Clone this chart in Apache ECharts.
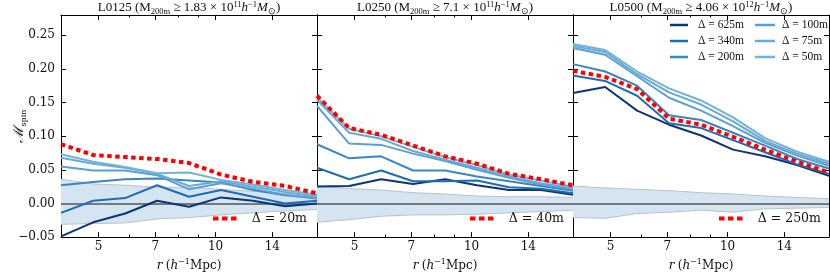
<!DOCTYPE html>
<html><head><meta charset="utf-8">
<script src="https://cdn.jsdelivr.net/npm/echarts@6/dist/echarts.min.js"></script>
<style>html,body{margin:0;padding:0;background:#fff}#c{width:830px;height:277px}</style>
</head><body><div id="c"></div>
<script>
// ---------- data ----------
const radii = [4.0, 4.84, 5.85, 7.07, 8.55, 10.33, 12.49, 15.1, 18.25];
const xTicks = [5, 7, 10, 14];
const xMinorTicks = [6, 8, 9];
const yTicks = [-0.05, 0, 0.05, 0.10, 0.15, 0.20, 0.25];
const deltaLabels = ['Δ = 625m', 'Δ = 340m', 'Δ = 200m', 'Δ = 100m', 'Δ = 75m', 'Δ = 50m'];
const panelNames = ['L0125', 'L0250', 'L0500'];
const massMant = ['1.83', '7.1', '4.06'];
const massExp = ['11', '11', '12'];
const redLabels = ['Δ = 20m', 'Δ = 40m', 'Δ = 250m'];

// L0125
const L0125_625 = [-0.049, -0.028, -0.015, 0.004, -0.005, 0.009, 0.004, -0.004, 0.000];
const L0125_340 = [-0.014, 0.004, 0.008, 0.027, 0.010, 0.020, 0.010, 0.000, 0.004];
const L0125_200 = [0.027, 0.032, 0.036, 0.037, 0.034, 0.031, 0.020, 0.012, 0.008];
const L0125_100 = [0.055, 0.049, 0.049, 0.042, 0.021, 0.030, 0.022, 0.013, 0.007];
const L0125_75  = [0.068, 0.059, 0.053, 0.044, 0.026, 0.033, 0.025, 0.017, 0.010];
const L0125_50  = [0.073, 0.062, 0.054, 0.045, 0.046, 0.035, 0.028, 0.020, 0.013];
const L0125_red = [0.088, 0.072, 0.069, 0.066, 0.060, 0.043, 0.032, 0.026, 0.015];
const L0125_hi  = [0.036, 0.029, 0.027, 0.024, 0.024, 0.021, 0.018, 0.015, 0.012];
const L0125_lo  = [-0.031, -0.030, -0.029, -0.023, -0.021, -0.017, -0.014, -0.011, -0.009];

// L0250
const L0250_625 = [0.025, 0.026, 0.036, 0.029, 0.036, 0.027, 0.020, 0.020, 0.013];
const L0250_340 = [0.053, 0.036, 0.049, 0.033, 0.033, 0.034, 0.024, 0.022, 0.015];
const L0250_200 = [0.088, 0.067, 0.070, 0.049, 0.049, 0.040, 0.033, 0.026, 0.019];
const L0250_100 = [0.145, 0.089, 0.087, 0.074, 0.063, 0.050, 0.038, 0.028, 0.021];
const L0250_75  = [0.154, 0.105, 0.096, 0.078, 0.065, 0.053, 0.040, 0.030, 0.023];
const L0250_50  = [0.158, 0.111, 0.100, 0.084, 0.069, 0.057, 0.043, 0.034, 0.025];
const L0250_red = [0.160, 0.112, 0.102, 0.086, 0.070, 0.059, 0.044, 0.036, 0.027];
const L0250_hi  = [0.026, 0.022, 0.020, 0.016, 0.014, 0.011, 0.010, 0.010, 0.009];
const L0250_lo  = [-0.028, -0.024, -0.019, -0.017, -0.017, -0.016, -0.014, -0.012, -0.010];

// L0500
const L0500_625 = [0.164, 0.173, 0.138, 0.117, 0.101, 0.080, 0.070, 0.057, 0.041];
const L0500_340 = [0.190, 0.182, 0.160, 0.119, 0.112, 0.094, 0.076, 0.058, 0.044];
const L0500_200 = [0.207, 0.196, 0.175, 0.131, 0.124, 0.105, 0.086, 0.066, 0.052];
const L0500_100 = [0.231, 0.221, 0.189, 0.157, 0.138, 0.115, 0.090, 0.071, 0.056];
const L0500_75  = [0.234, 0.225, 0.192, 0.165, 0.147, 0.122, 0.093, 0.074, 0.059];
const L0500_50  = [0.237, 0.228, 0.196, 0.171, 0.153, 0.128, 0.097, 0.077, 0.062];
const L0500_red = [0.197, 0.188, 0.170, 0.126, 0.117, 0.099, 0.080, 0.062, 0.046];
const L0500_hi  = [0.026, 0.023, 0.021, 0.019, 0.016, 0.014, 0.011, 0.009, 0.007];
const L0500_lo  = [-0.021, -0.022, -0.015, -0.013, -0.010, -0.013, -0.008, -0.007, -0.006];

const panels = [
  {blue: [L0125_625, L0125_340, L0125_200, L0125_100, L0125_75, L0125_50], red: L0125_red, hi: L0125_hi, lo: L0125_lo},
  {blue: [L0250_625, L0250_340, L0250_200, L0250_100, L0250_75, L0250_50], red: L0250_red, hi: L0250_hi, lo: L0250_lo},
  {blue: [L0500_625, L0500_340, L0500_200, L0500_100, L0500_75, L0500_50], red: L0500_red, hi: L0500_hi, lo: L0500_lo}
];

// ---------- styles / layout ----------
const FONT = 'DejaVu Serif';
const SERIF2 = 'Liberation Serif';
const blueColors = ['#0b3575', '#1f6cb3', '#3886c4', '#5aa0d2', '#66aad5', '#72b2da'];
const gridLefts = [61, 317, 573];
const gridW = 256, gridTop = 15, gridH = 225;
const redLegendLeft = [213, 470, 719];
const dotIcon = 'path://M0,0h5.5v4h-5.5zM9,0h5.5v4h-5.5zM18,0h5.5v4h-5.5z';

const zip = (xs, ys) => xs.map((x, i) => [x, ys[i]]);
const fmtY = v => (v < -1e-9 ? '−' : '') + Math.abs(v).toFixed(2);

const grids = [], xAxes = [], yAxes = [], series = [], graphics = [], legends = [];

function bandRender(params, api) {
  if (params.dataIndex !== 0) return null;
  const n = params.dataInsideLength;
  const upper = [], lower = [];
  for (let i = 0; i < n; i++) {
    upper.push(api.coord([api.value(0, i), api.value(2, i)]));
    lower.push(api.coord([api.value(0, i), api.value(1, i)]));
  }
  const poly = upper.concat(lower.slice().reverse());
  return {
    type: 'group',
    children: [
      {type: 'polygon', shape: {points: poly}, style: {fill: '#d5e4f1', stroke: null}, silent: true},
      {type: 'polyline', shape: {points: upper}, style: {stroke: '#b9c3cd', lineWidth: 1, fill: null}, silent: true},
      {type: 'polyline', shape: {points: lower}, style: {stroke: '#b9c3cd', lineWidth: 1, fill: null}, silent: true}
    ]
  };
}

panels.forEach((p, k) => {
  grids.push({left: gridLefts[k], top: gridTop, width: gridW, height: gridH, containLabel: false});
  const xBase = {type: 'log', logBase: 10, min: radii[0], max: radii[radii.length - 1], gridIndex: k,
    splitLine: {show: false}, minorTick: {show: false}, minorSplitLine: {show: false}};
  xAxes.push(Object.assign({}, xBase, {
    position: 'bottom',
    axisLine: {show: true, onZero: false, lineStyle: {color: '#000', width: 1}},
    axisTick: {show: true, inside: true, length: 5, customValues: xTicks, lineStyle: {color: '#000', width: 1}},
    axisLabel: {show: true, customValues: xTicks, margin: 4, color: '#111', fontFamily: FONT, fontSize: 12, formatter: v => String(Math.round(v))},
    name: '{i|r} {a|(}{i|h}{sup|−1}{a|Mpc)}', nameLocation: 'middle', nameGap: 17,
    nameTextStyle: {color: '#111', rich: {
      a: {fontFamily: FONT, fontSize: 12, lineHeight: 16, verticalAlign: 'middle', color: '#111'},
      i: {fontFamily: FONT, fontStyle: 'italic', fontSize: 12, lineHeight: 16, verticalAlign: 'middle', color: '#111'},
      sup: {fontFamily: FONT, fontSize: 8, lineHeight: 16, verticalAlign: 'top', color: '#111'}}}
  }));
  xAxes.push(Object.assign({}, xBase, {
    position: 'top',
    axisLine: {show: true, onZero: false, lineStyle: {color: '#000', width: 1}},
    axisTick: {show: true, inside: true, length: 5, customValues: xTicks, lineStyle: {color: '#000', width: 1}},
    axisLabel: {show: false}
  }));
  xAxes.push(Object.assign({}, xBase, {
    position: 'bottom',
    axisLine: {show: false, onZero: false},
    axisTick: {show: true, inside: true, length: 2.5, customValues: xMinorTicks, lineStyle: {color: '#000', width: 1}},
    axisLabel: {show: false}
  }));
  xAxes.push(Object.assign({}, xBase, {
    position: 'top',
    axisLine: {show: false, onZero: false},
    axisTick: {show: true, inside: true, length: 2.5, customValues: xMinorTicks, lineStyle: {color: '#000', width: 1}},
    axisLabel: {show: false}
  }));

  const yBase = {type: 'value', min: -0.05, max: 0.28, interval: 0.05, gridIndex: k, splitLine: {show: false}};
  yAxes.push(Object.assign({}, yBase, {
    position: 'left',
    axisLine: {show: true, onZero: false, lineStyle: {color: '#000', width: 1}},
    axisTick: {show: true, inside: true, length: 5, customValues: yTicks, lineStyle: {color: '#000', width: 1}},
    axisLabel: {show: k === 0, customValues: yTicks, margin: 6, color: '#111', fontFamily: FONT, fontSize: 12, formatter: fmtY},
    name: k === 0 ? '{m|ℳ}{s|spin}' : '', nameLocation: 'middle', nameRotate: 90, nameGap: 33,
    nameMoveOverlap: false,
    nameTextStyle: {color: '#111', rich: {
      m: {fontFamily: FONT, fontStyle: 'italic', fontSize: 14, lineHeight: 18, verticalAlign: 'middle', color: '#111'},
      s: {fontFamily: FONT, fontSize: 8, lineHeight: 18, verticalAlign: 'bottom', color: '#111'}}}
  }));
  yAxes.push(Object.assign({}, yBase, {
    position: 'right',
    axisLine: {show: true, onZero: false, lineStyle: {color: '#000', width: 1}},
    axisTick: {show: true, inside: true, length: 5, customValues: yTicks, lineStyle: {color: '#000', width: 1}},
    axisLabel: {show: false}
  }));

  const xi = 4 * k, yi = 2 * k;
  series.push({
    type: 'custom', name: 'band_' + k, xAxisIndex: xi, yAxisIndex: yi,
    data: radii.map((r, i) => [r, p.lo[i], p.hi[i]]),
    encode: {x: 0, y: [1, 2]}, renderItem: bandRender, silent: true, z: 1, clip: true,
    markLine: {silent: true, symbol: 'none', z: 2, animation: false, label: {show: false},
      lineStyle: {color: '#555', width: 1.5, type: 'solid'}, data: [{yAxis: 0}]}
  });
  p.blue.forEach((arr, j) => {
    series.push({
      type: 'line', name: deltaLabels[j], xAxisIndex: xi, yAxisIndex: yi,
      data: zip(radii, arr), symbol: 'none', z: 3,
      lineStyle: {color: blueColors[j], width: 2}, itemStyle: {color: blueColors[j]}
    });
  });
  series.push({
    type: 'line', name: redLabels[k], xAxisIndex: xi, yAxisIndex: yi,
    data: zip(radii, p.red), symbol: 'none', z: 4,
    lineStyle: {color: '#ff0000', width: 4, type: [4.5, 3.5]}, itemStyle: {color: '#ff0000'}
  });

  graphics.push({
    type: 'text', x: gridLefts[k] + gridW / 2, y: 8, silent: true,
    style: {
      text: '{a|' + panelNames[k] + ' (M}{sub|200m}{a| ≥ ' + massMant[k] + ' × 10}{sup|' + massExp[k] + '}{i|h}{sup|−1}{i|M}{sub|⊙}{a|)}',
      align: 'center', verticalAlign: 'middle',
      rich: {
        a: {fontFamily: SERIF2, fontSize: 13, lineHeight: 16, verticalAlign: 'middle', fill: '#111'},
        i: {fontFamily: SERIF2, fontStyle: 'italic', fontSize: 13, lineHeight: 16, verticalAlign: 'middle', fill: '#111'},
        sub: {fontFamily: SERIF2, fontSize: 8.5, lineHeight: 16, verticalAlign: 'bottom', fill: '#111'},
        sup: {fontFamily: SERIF2, fontSize: 8.5, lineHeight: 16, verticalAlign: 'top', fill: '#111'}
      }
    }
  });

  legends.push({
    data: [{name: redLabels[k], icon: dotIcon}], left: redLegendLeft[k], top: 212, padding: 0, orient: 'horizontal',
    itemWidth: 24, itemHeight: 4, selectedMode: false,
    itemStyle: {color: '#ff0000', borderWidth: 0},
    textStyle: {fontFamily: FONT, fontSize: 12.5, color: '#111', padding: [0, 0, 0, 10]}
  });
});

legends.push({
  data: deltaLabels.slice(0, 3).map(n => ({name: n, icon: 'rect'})), left: 670, top: 19, padding: 0, orient: 'vertical',
  itemWidth: 18, itemHeight: 2.5, itemGap: 4, selectedMode: false,
  itemStyle: {borderWidth: 0},
  textStyle: {fontFamily: SERIF2, fontSize: 11.5, color: '#111', padding: [0, 0, 0, 5], lineHeight: 10}
});
legends.push({
  data: deltaLabels.slice(3, 6).map(n => ({name: n, icon: 'rect'})), left: 755, top: 19, padding: 0, orient: 'vertical',
  itemWidth: 20, itemHeight: 2.5, itemGap: 4, selectedMode: false,
  itemStyle: {borderWidth: 0},
  textStyle: {fontFamily: SERIF2, fontSize: 11.5, color: '#111', padding: [0, 0, 0, 2], lineHeight: 10}
});

const chart = echarts.init(document.getElementById('c'), null, {renderer: 'canvas'});
chart.setOption({
  animation: false,
  backgroundColor: '#fff',
  grid: grids, xAxis: xAxes, yAxis: yAxes, series: series,
  legend: legends, graphic: graphics
});
</script></body></html>
